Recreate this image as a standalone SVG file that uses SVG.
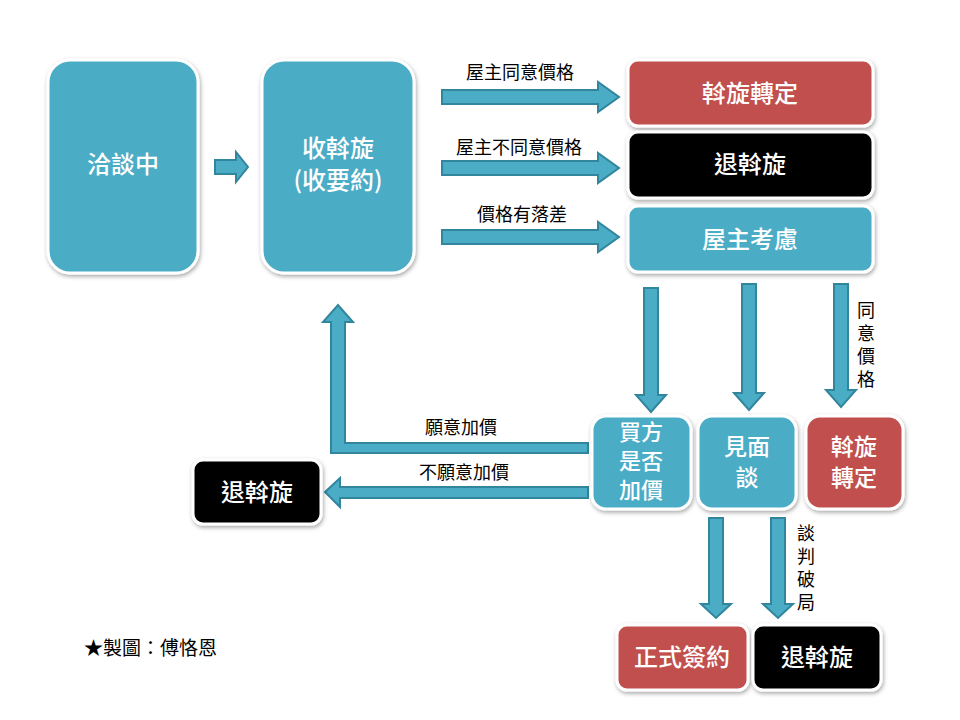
<svg xmlns="http://www.w3.org/2000/svg" width="960" height="720" viewBox="0 0 960 720">
<defs>
<filter id="sh" x="-10%" y="-10%" width="130%" height="130%">
<feDropShadow dx="1" dy="2" stdDeviation="2" flood-color="#000" flood-opacity="0.35"/>
</filter>
<style>
.n{stroke:#fff;stroke-width:3;filter:url(#sh)}
.blue{fill:#4BACC6}
.red{fill:#C0504D}
.blk{fill:#000}
.t{font-family:"Noto Sans CJK TC","Noto Sans CJK SC",sans-serif;font-size:24px;fill:#fff;text-anchor:middle;font-weight:500}
.s3{font-size:22px}
.s2{font-size:23px}
.l{font-family:"Noto Sans CJK TC","Noto Sans CJK SC",sans-serif;font-size:18px;fill:#000;text-anchor:middle}
.v{font-family:"Noto Sans CJK TC","Noto Sans CJK SC",sans-serif;font-size:18px;fill:#000;writing-mode:vertical-rl;letter-spacing:5px}
.a{fill:#4BACC6;stroke:#31859C;stroke-width:2;stroke-linejoin:miter}
</style>
</defs>
<rect width="960" height="720" fill="#fff"/>

<g id="connectors">
<polygon class="a" points="215,160 236,160 236,152 248,167 236,182 236,174 215,174"/>
<polygon class="a" points="442,90 598,90 598,82 619,97 598,112 598,104 442,104"/>
<polygon class="a" points="442,161 598,161 598,153 619,168 598,183 598,175 442,175"/>
<polygon class="a" points="442,230 598,230 598,222 619,237 598,252 598,244 442,244"/>
<polygon class="a" points="644,288 658,288 658,395 666,395 651,412 636,395 644,395"/>
<polygon class="a" points="742,284 756,284 756,393 764,393 749,410 734,393 742,393"/>
<polygon class="a" points="834,284 848,284 848,390 856,390 841,407 826,390 834,390"/>
<polygon class="a" points="588,443 345,443 345,322 353,322 338,305 323,322 331,322 331,453 588,453"/>
<polygon class="a" points="588,487 340,487 340,478 325,492 340,507 340,498 588,498"/>
<polygon class="a" points="709,518 723,518 723,604 731,604 716,618 701,604 709,604"/>
<polygon class="a" points="771,518 785,518 785,604 793,604 778,618 763,604 771,604"/>
<text class="l" x="520" y="79">屋主同意價格</text>
<text class="l" x="519" y="154">屋主不同意價格</text>
<text class="l" x="522" y="221">價格有落差</text>
<text class="v" x="866" y="301">同意價格</text>
<text class="l" x="461" y="434">願意加價</text>
<text class="l" x="464" y="479">不願意加價</text>
<text class="v" x="806" y="524">談判破局</text>
</g>

<g id="n1"><rect class="n blue" x="48" y="60" width="150" height="213" rx="22"/><text class="t" x="123" y="173">洽談中</text></g>
<g id="n2"><rect class="n blue" x="262" y="60" width="152" height="213" rx="22"/><text class="t" x="338" y="157">收斡旋<tspan x="338" dy="32">(收要約)</tspan></text></g>
<g id="n3"><rect class="n red" x="628" y="60" width="245" height="66" rx="10"/><text class="t" x="750" y="102">斡旋轉定</text></g>
<g id="n4"><rect class="n blk" x="628" y="132" width="245" height="66" rx="10"/><text class="t" x="750" y="173">退斡旋</text></g>
<g id="n5"><rect class="n blue" x="628" y="206" width="245" height="66" rx="10"/><text class="t" x="750" y="248">屋主考慮</text></g>
<g id="n6"><rect class="n blue" x="592" y="416" width="99" height="93" rx="14"/><text class="t s3" x="641" y="440">買方<tspan x="641" dy="29">是否</tspan><tspan x="641" dy="29">加價</tspan></text></g>
<g id="n7"><rect class="n blue" x="698" y="416" width="98" height="93" rx="14"/><text class="t s2" x="747" y="455">見面<tspan x="747" dy="31">談</tspan></text></g>
<g id="n8"><rect class="n red" x="806" y="416" width="97" height="93" rx="14"/><text class="t s2" x="854" y="455">斡旋<tspan x="854" dy="31">轉定</tspan></text></g>
<g id="n9"><rect class="n blk" x="193" y="460" width="128" height="64" rx="10"/><text class="t" x="257" y="501">退斡旋</text></g>
<g id="n10"><rect class="n red" x="617" y="625" width="131" height="65" rx="10"/><text class="t" x="682" y="666">正式簽約</text></g>
<g id="n11"><rect class="n blk" x="753" y="625" width="128" height="65" rx="10"/><text class="t" x="817" y="666">退斡旋</text></g>

<text x="84" y="655" style="font-family:'Noto Sans CJK TC','Noto Sans CJK SC',sans-serif;font-size:19px;fill:#000">★製圖：傅恪恩</text>
</svg>
